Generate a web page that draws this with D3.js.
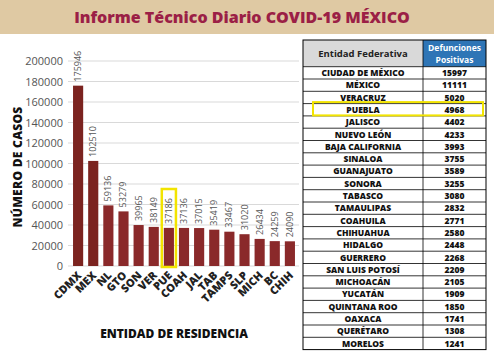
<!DOCTYPE html>
<html>
<head>
<meta charset="utf-8">
<script src="https://cdn.jsdelivr.net/npm/d3@7"></script>
<style>
  body { margin: 0; background: #fff; }
  svg { display: block; font-family: "Open Sans", sans-serif; }
</style>
</head>
<body>
<div id="chart"></div>
<script>
// bar chart data
const states = ["CDMX", "MEX", "NL", "GTO", "SON", "VER", "PUE", "COAH", "JAL", "TAB", "TAMPS", "SLP", "MICH", "BC", "CHIH"];
const cases = [175946, 102510, 59136, 53279, 39965, 38149, 37186, 37136, 37015, 35419, 33467, 31020, 26434, 24259, 24090];
const yTicks = [0, 20000, 40000, 60000, 80000, 100000, 120000, 140000, 160000, 180000, 200000];
const highlightState = "PUE";

// table data
const tableStates = ["CIUDAD DE MÉXICO", "MÉXICO", "VERACRUZ", "PUEBLA", "JALISCO", "NUEVO LEÓN", "BAJA CALIFORNIA",
  "SINALOA", "GUANAJUATO", "SONORA", "TABASCO", "TAMAULIPAS", "COAHUILA", "CHIHUAHUA", "HIDALGO", "GUERRERO",
  "SAN LUIS POTOSÍ", "MICHOACÁN", "YUCATÁN", "QUINTANA ROO", "OAXACA", "QUERÉTARO", "MORELOS"];
const tableDeaths = [15997, 11111, 5020, 4968, 4402, 4233, 3993, 3755, 3589, 3255, 3080, 2832, 2771, 2580, 2448, 2268,
  2209, 2105, 1909, 1850, 1741, 1308, 1241];
const highlightRow = "PUEBLA";

const width = 494, height = 351;
const svg = d3.select("#chart").append("svg")
  .attr("width", width)
  .attr("height", height);

// header band
svg.append("rect")
  .attr("x", 0).attr("y", 0)
  .attr("width", width).attr("height", 34)
  .attr("fill", "#dfc9a3");
svg.append("text")
  .attr("x", 242).attr("y", 22.5)
  .attr("text-anchor", "middle")
  .attr("font-size", "16px")
  .attr("font-weight", "800")
  .attr("fill", "#9b1f46")
  .text("Informe Técnico Diario COVID-19 MÉXICO");

// scales
const x = d3.scaleBand()
  .domain(states)
  .range([68.5, 299.5])
  .paddingInner(0.33)
  .paddingOuter(0.3);
const y = d3.scaleLinear()
  .domain([0, 200000])
  .range([266, 61]);

// gridlines
svg.append("g")
  .selectAll("line")
  .data(yTicks)
  .enter().append("line")
  .attr("x1", 68).attr("x2", 299)
  .attr("y1", d => y(d)).attr("y2", d => y(d))
  .attr("stroke", "#d9d9d9")
  .attr("stroke-width", 1);

// y axis
const yAxis = svg.append("g")
  .attr("transform", "translate(68,0)")
  .call(d3.axisLeft(y).tickValues(yTicks).tickSize(0).tickPadding(5).tickFormat(d3.format("d")));
yAxis.select(".domain").remove();
yAxis.selectAll("text")
  .attr("font-size", "11px")
  .attr("fill", "#555")
  .attr("font-family", "'Open Sans', sans-serif");

// bars
svg.selectAll(".bar")
  .data(states)
  .enter().append("rect")
  .attr("class", "bar")
  .attr("x", d => x(d))
  .attr("y", (d, i) => y(cases[i]))
  .attr("width", x.bandwidth())
  .attr("height", (d, i) => y(0) - y(cases[i]))
  .attr("fill", (d, i) => i < 2 ? "#7b231f" : "#8a292a");

// value labels
svg.selectAll(".val")
  .data(states)
  .enter().append("text")
  .attr("class", "val")
  .attr("transform", (d, i) => `translate(${x(d) + x.bandwidth() / 2 + 3},${y(cases[i]) - 4}) rotate(-90)`)
  .attr("font-size", "9px")
  .attr("fill", "#555")
  .text((d, i) => cases[i]);

// x labels
svg.selectAll(".xlab")
  .data(states)
  .enter().append("text")
  .attr("class", "xlab")
  .attr("transform", d => `translate(${x(d) + x.bandwidth() / 2 + 4},${276}) rotate(-45)`)
  .attr("text-anchor", "end")
  .attr("font-size", "11px")
  .attr("font-weight", "800")
  .attr("fill", "#222")
  .text(d => d);

// highlight box on chart
const hx = x(highlightState);
svg.append("rect")
  .attr("x", hx - 2).attr("y", 189)
  .attr("width", x.bandwidth() + 4).attr("height", 78)
  .attr("fill", "none")
  .attr("stroke", "#f2e400")
  .attr("stroke-width", 2.5);

// axis titles
svg.append("text")
  .attr("transform", "translate(22,167) rotate(-90)")
  .attr("text-anchor", "middle")
  .attr("font-size", "12px")
  .attr("font-weight", "800")
  .attr("letter-spacing", "0.3px")
  .attr("fill", "#111")
  .text("NÚMERO DE CASOS");
svg.append("text")
  .attr("x", 174).attr("y", 338)
  .attr("text-anchor", "middle")
  .attr("font-size", "12px")
  .attr("font-weight", "800")
  .attr("fill", "#111")
  .text("ENTIDAD DE RESIDENCIA");

// table
const tLeft = 303, tMid = 423, tRight = 486, tTop = 40, headH = 26.7, rowH = 12.3;
const table = svg.append("g");
table.append("rect")
  .attr("x", tLeft).attr("y", tTop)
  .attr("width", tMid - tLeft).attr("height", headH)
  .attr("fill", "#d9d9d9");
table.append("rect")
  .attr("x", tMid).attr("y", tTop)
  .attr("width", tRight - tMid).attr("height", headH)
  .attr("fill", "#2e75b6");
table.append("text")
  .attr("x", (tLeft + tMid) / 2).attr("y", tTop + headH / 2 + 3.5)
  .attr("text-anchor", "middle")
  .attr("font-size", "9.5px").attr("font-weight", "bold").attr("fill", "#222")
  .text("Entidad Federativa");
table.append("text")
  .attr("x", (tMid + tRight) / 2).attr("y", tTop + 10.5)
  .attr("text-anchor", "middle")
  .attr("font-size", "8.5px").attr("font-weight", "bold").attr("fill", "#fff")
  .text("Defunciones");
table.append("text")
  .attr("x", (tMid + tRight) / 2).attr("y", tTop + 22.5)
  .attr("text-anchor", "middle")
  .attr("font-size", "8.5px").attr("font-weight", "bold").attr("fill", "#fff")
  .text("Positivas");

const rowY = d3.scaleBand()
  .domain(tableStates)
  .range([tTop + headH, tTop + headH + rowH * tableStates.length]);

const rows = table.selectAll(".row")
  .data(tableStates)
  .enter().append("g")
  .attr("class", "row");
rows.append("line")
  .attr("x1", tLeft).attr("x2", tRight)
  .attr("y1", d => rowY(d)).attr("y2", d => rowY(d))
  .attr("stroke", "#000").attr("stroke-width", 0.8);
rows.append("text")
  .attr("x", (tLeft + tMid) / 2)
  .attr("y", d => rowY(d) + rowH / 2 + 3.2)
  .attr("text-anchor", "middle")
  .attr("font-size", "8.5px").attr("font-weight", "800").attr("fill", "#111")
  .text(d => d);
rows.append("text")
  .attr("x", (tMid + tRight) / 2)
  .attr("y", d => rowY(d) + rowH / 2 + 3.2)
  .attr("text-anchor", "middle")
  .attr("font-size", "8.5px").attr("font-weight", "800").attr("fill", "#111")
  .text((d, i) => tableDeaths[i]);

const tBottom = tTop + headH + rowH * tableStates.length;
table.append("rect")
  .attr("x", tLeft).attr("y", tTop)
  .attr("width", tRight - tLeft).attr("height", tBottom - tTop)
  .attr("fill", "none").attr("stroke", "#000").attr("stroke-width", 1);
table.append("line")
  .attr("x1", tMid).attr("x2", tMid)
  .attr("y1", tTop).attr("y2", tBottom)
  .attr("stroke", "#000").attr("stroke-width", 0.8);

// highlight box on table
table.append("rect")
  .attr("x", 313).attr("y", rowY(highlightRow) - 1.5)
  .attr("width", 170).attr("height", rowH + 1)
  .attr("fill", "none")
  .attr("stroke", "#f2e400")
  .attr("stroke-width", 2);
</script>
</body>
</html>
